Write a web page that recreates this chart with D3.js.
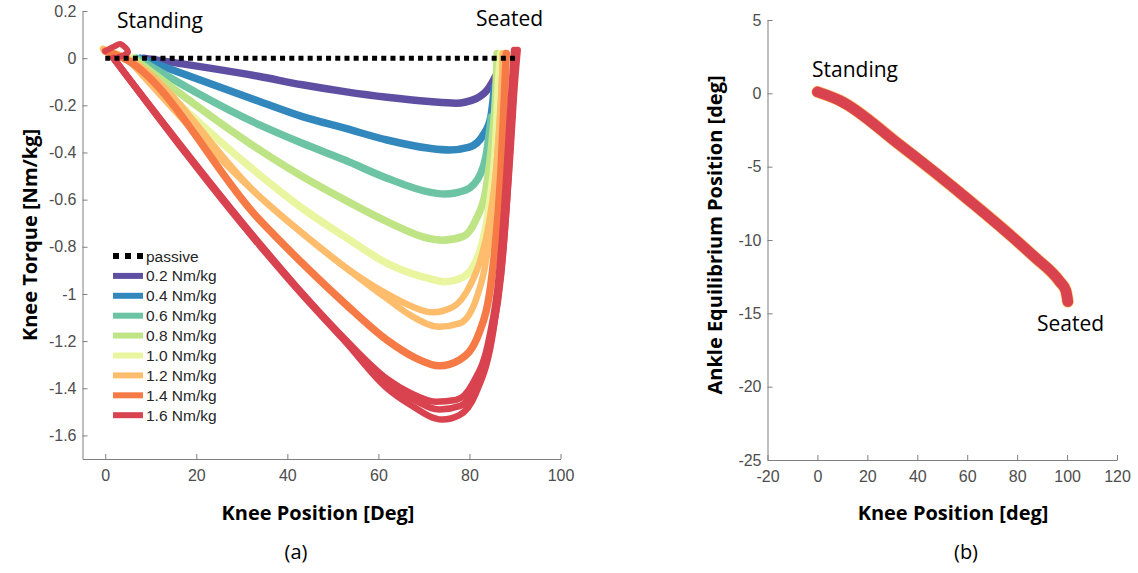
<!DOCTYPE html>
<html lang="en">
<head>
  <meta charset="UTF-8">
  <title>Knee torque and ankle equilibrium</title>
  <style>
    body { margin: 0; background: #ffffff; }
    svg { display: block; background: #ffffff; }
    .tick text { font-family: "Liberation Sans", Arial, sans-serif; font-size: 16px; fill: #4d4d4d; }
    .tick line, .domain { stroke: #7f7f7f; }
  </style>
</head>
<body>
  <svg id="chart" width="1138" height="573"></svg>

  <script src="https://d3js.org/d3.v7.min.js"></script>
  <script>
    // ---- data ----
    const levels = ["0.2 Nm/kg", "0.4 Nm/kg", "0.6 Nm/kg", "0.8 Nm/kg", "1.0 Nm/kg", "1.2 Nm/kg", "1.4 Nm/kg", "1.6 Nm/kg"];
    const colors = ["#5e4fa2", "#3288bd", "#6cc4a4", "#bfe486", "#eaf5a0", "#fdbd6c", "#f57a45", "#d8434f"];

    // panel (a): [knee position deg, knee torque Nm/kg]
    const trial02 = [[8.4, 0], [33.9, -0.078], [43.3, -0.113], [52.6, -0.142], [61.9, -0.166], [71.2, -0.184], [77, -0.191], [81.4, -0.172], [84.3, -0.125], [85.8, -0.075]];
    const trial04 = [[7.7, 0], [33.9, -0.184], [43.3, -0.248], [52.6, -0.297], [61.9, -0.347], [71.2, -0.382], [75.6, -0.389], [80, -0.377], [83.2, -0.32], [84.7, -0.248], [85.5, -0.12]];
    const trial06 = [[6.9, 0], [33.9, -0.283], [43.3, -0.361], [52.6, -0.432], [61.9, -0.509], [71.2, -0.568], [74.5, -0.576], [79.2, -0.559], [82.5, -0.488], [83.6, -0.418], [84.8, -0.25]];
    const trial08 = [[6.2, 0], [33.9, -0.389], [43.3, -0.502], [52.6, -0.601], [61.9, -0.693], [71.2, -0.765], [74.1, -0.772], [78.5, -0.757], [81.4, -0.686], [83.6, -0.559], [85, -0.347], [85.8, -0.135], [86.1, 0.02]];
    const trial10 = [[5.5, 0], [33.9, -0.495], [43.3, -0.637], [52.6, -0.757], [61.9, -0.87], [71.2, -0.935], [74.5, -0.948], [78.5, -0.93], [82.1, -0.828], [84.3, -0.63], [85.8, -0.347], [86.5, -0.064], [86.9, 0.02]];
    const trial12a = [[-0.5, 0.04], [4.8, 0], [33.9, -0.587], [43.3, -0.743], [52.6, -0.885], [61.9, -1.0], [67, -1.05], [71.9, -1.078], [76.3, -1.056], [80, -0.969], [82.5, -0.85], [84.3, -0.7], [86.1, -0.418], [87.2, -0.064], [87.3, 0.02]];
    const trial12b = [[4.8, 0], [33.9, -0.587], [43.3, -0.743], [52.6, -0.885], [61.9, -1.02], [67, -1.09], [73.4, -1.139], [77.8, -1.125], [81.4, -1.026], [84.3, -0.771], [86.1, -0.418], [87.2, -0.064], [87.4, 0.02]];
    const trial14 = [[0, 0.03], [4, 0], [33.9, -0.686], [43.3, -0.87], [52.6, -1.04], [61.9, -1.196], [68, -1.27], [73.4, -1.305], [77.8, -1.28], [82.1, -1.167], [85, -0.913], [86.9, -0.488], [87.9, -0.064], [88.1, 0.02]];
    const trial16a = [[1.8, 0], [33.9, -0.785], [43.3, -0.997], [52.6, -1.19], [61.9, -1.36], [67, -1.42], [72.6, -1.457], [77, -1.45], [80.7, -1.38], [84.3, -1.19], [86.5, -0.913], [87.9, -0.559], [89, -0.205], [89.8, 0.035]];
    const trial16b = [[1.8, 0], [33.9, -0.79], [43.3, -1.0], [52.6, -1.196], [61.9, -1.375], [67, -1.44], [73.5, -1.49], [78, -1.475], [81.2, -1.4], [84.8, -1.19], [87, -0.913], [88.4, -0.559], [89.5, -0.205], [90.3, 0.035]];
    const trial16c = [[1.8, 0], [33.9, -0.795], [43.3, -1.005], [52.6, -1.2], [61.9, -1.4], [67, -1.47], [74, -1.533], [77.8, -1.514], [81.4, -1.422], [85.3, -1.15], [87.5, -0.8], [89, -0.4], [90, -0.1], [90.6, 0.035]];
    const torqueTrials = [[trial02], [trial04], [trial06], [trial08], [trial10], [trial12a, trial12b], [trial14], [trial16a, trial16b, trial16c]];
    // little wobble of the 1.6 trials at standing
    const startBlob = [[0, 0.03], [2, 0.05], [3.3, 0.06], [5, 0.025], [3, 0.005]];
    const passiveKnee = [0, 90];
    const passiveTorque = [0, 0];

    // panel (b): knee position vs ankle equilibrium position
    const ankleKnee = [0, 9.1, 33, 59.8, 86.4, 97.1, 99.5, 100.3];
    const ankleEq = [0.1, -0.5, -3.52, -7.16, -11.07, -12.84, -13.45, -14.2];

    const torqueTicks = [0.2, 0, -0.2, -0.4, -0.6, -0.8, -1, -1.2, -1.4, -1.6];
    const kneeTicksA = [0, 20, 40, 60, 80, 100];
    const ankleTicks = [5, 0, -5, -10, -15, -20, -25];
    const kneeTicksB = [-20, 0, 20, 40, 60, 80, 100, 120];

    // ---- drawing ----
    const svg = d3.select("#chart");
    const fmt = (d) => String(Math.round(d * 10) / 10);
    const labelFont = "'Open Sans', 'Noto Sans', sans-serif";

    // panel (a)
    const xA = d3.scaleLinear().domain([-5, 100]).range([82.5, 560.5]);
    const yA = d3.scaleLinear().domain([-1.7, 0.2]).range([459, 11]);

    svg.append("g")
      .attr("transform", "translate(0," + yA(-1.7) + ")")
      .call(d3.axisBottom(xA).tickValues(kneeTicksA).tickFormat(fmt).tickSizeInner(-5).tickSizeOuter(0).tickPadding(11));
    svg.append("g")
      .attr("transform", "translate(" + xA(-5) + ",0)")
      .call(d3.axisLeft(yA).tickValues(torqueTicks).tickFormat(fmt).tickSizeInner(-5).tickSizeOuter(0).tickPadding(6));

    const lineA = d3.line()
      .x((d) => xA(d[0]))
      .y((d) => yA(d[1]))
      .curve(d3.curveMonotoneX);

    torqueTrials.forEach((trials, i) => {
      trials.forEach((t) => {
        svg.append("path")
          .datum(t)
          .attr("d", lineA)
          .attr("fill", "none")
          .attr("stroke", colors[i])
          .attr("stroke-width", trials.length > 1 ? 6.5 : 7.5)
          .attr("stroke-linecap", "round")
          .attr("stroke-linejoin", "round");
      });
    });

    svg.append("path")
      .datum(startBlob)
      .attr("d", d3.line().x((d) => xA(d[0])).y((d) => yA(d[1])).curve(d3.curveCatmullRom))
      .attr("fill", "none")
      .attr("stroke", colors[7])
      .attr("stroke-width", 6)
      .attr("stroke-linecap", "round");

    svg.append("path")
      .datum(passiveKnee.map((k, i) => [k, passiveTorque[i]]))
      .attr("d", d3.line().x((d) => xA(d[0])).y((d) => yA(d[1])))
      .attr("stroke", "#000")
      .attr("stroke-width", 5)
      .attr("stroke-dasharray", "5,4.2");

    // legend
    const legendRows = ["passive"].concat(levels);
    const legend = svg.append("g").attr("transform", "translate(113,256)");
    legendRows.forEach((name, i) => {
      legend.append("line")
        .attr("x1", 0).attr("x2", 30)
        .attr("y1", i * 19.9).attr("y2", i * 19.9)
        .attr("stroke", i === 0 ? "#000" : colors[i - 1])
        .attr("stroke-width", 6)
        .attr("stroke-dasharray", i === 0 ? "6,6" : null);
      legend.append("text")
        .attr("x", 33)
        .attr("y", i * 19.9 + 5.5)
        .attr("font-family", "'Liberation Sans', Arial, sans-serif")
        .attr("font-size", 15.5)
        .attr("fill", "#262626")
        .text(name);
    });

    // panel (b)
    const xB = d3.scaleLinear().domain([-20, 120]).range([767.5, 1117]);
    const yB = d3.scaleLinear().domain([-25, 5]).range([460, 20]);

    svg.append("g")
      .attr("transform", "translate(0," + yB(-25) + ")")
      .call(d3.axisBottom(xB).tickValues(kneeTicksB).tickFormat(fmt).tickSizeInner(-5).tickSizeOuter(0).tickPadding(11));
    svg.append("g")
      .attr("transform", "translate(" + xB(-20) + ",0)")
      .call(d3.axisLeft(yB).tickValues(ankleTicks).tickFormat(fmt).tickSizeInner(-5).tickSizeOuter(0).tickPadding(6));

    const lineB = d3.line()
      .x((d) => xB(d[0]))
      .y((d) => yB(d[1]))
      .curve(d3.curveMonotoneX);
    const anklePts = ankleKnee.map((k, i) => [k, ankleEq[i]]);

    colors.forEach((c, i) => {
      svg.append("path")
        .datum(anklePts)
        .attr("d", lineB)
        .attr("fill", "none")
        .attr("stroke", c)
        .attr("stroke-width", i === 5 ? 12 : 10.5)
        .attr("stroke-linecap", "round")
        .attr("stroke-linejoin", "round");
    });

    // titles and notes
    const addText = (x, y, txt, size, weight, rotate) => {
      svg.append("text")
        .attr("transform", "translate(" + x + "," + y + ")" + (rotate ? " rotate(-90)" : ""))
        .attr("text-anchor", rotate || weight === "bold" || txt.startsWith("(") ? "middle" : "start")
        .attr("font-family", labelFont)
        .attr("font-size", size)
        .attr("font-weight", weight)
        .attr("fill", "#000")
        .text(txt);
    };

    addText(318, 520, "Knee Position [Deg]", 20, "bold");
    addText(37, 235, "Knee Torque [Nm/kg]", 20, "bold", true);
    addText(296, 559, "(a)", 20, "normal");
    addText(117, 28, "Standing", 21, "normal");
    addText(476, 26, "Seated", 21, "normal");

    addText(953, 520, "Knee Position [deg]", 20, "bold");
    addText(722, 235, "Ankle Equilibrium Position [deg]", 20, "bold", true);
    addText(966, 559, "(b)", 20, "normal");
    addText(812, 77, "Standing", 21, "normal");
    addText(1037, 331, "Seated", 21, "normal");
  </script>
</body>
</html>
